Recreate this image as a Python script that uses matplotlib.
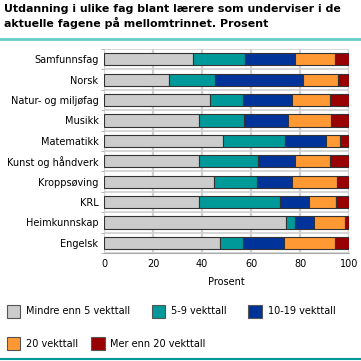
import matplotlib
matplotlib.use("Agg")
import matplotlib.pyplot as plt
from matplotlib.patches import Patch
import numpy as np

fag = ["Samfunnsfag", "Norsk", "Natur- og miljøfag", "Musikk", "Matematikk",
       "Kunst og håndverk", "Kroppsøving", "KRL", "Heimkunnskap", "Engelsk"]

# prosent per kategori
mindre_enn_5 = [36.5, 26.7, 43.4, 38.6, 48.7, 38.9, 45.0, 38.6, 74.3, 47.5]
v5_9 = [21.2, 18.7, 13.5, 18.7, 25.3, 24.0, 17.6, 33.2, 3.7, 9.4]
v10_19 = [20.1, 35.7, 20.0, 17.7, 16.5, 14.9, 14.1, 11.7, 7.6, 16.7]
v20 = [16.6, 14.4, 15.5, 17.8, 5.6, 14.6, 18.4, 11.3, 12.9, 20.8]
mer_enn_20 = [5.6, 4.5, 7.6, 7.2, 3.9, 7.6, 4.9, 5.2, 1.5, 5.6]

serier = [mindre_enn_5, v5_9, v10_19, v20, mer_enn_20]
navn = ["Mindre enn 5 vekttall", "5-9 vekttall", "10-19 vekttall",
        "20 vekttall", "Mer enn 20 vekttall"]
farger = ["#cccccc", "#009999", "#003399", "#ff9933", "#990000"]

fig = plt.figure(figsize=(3.61, 3.61), dpi=100)
ax = fig.add_axes([0.288, 0.299, 0.679, 0.565])

y = np.arange(len(fag))
venstre = np.zeros(len(fag))
for verdier, farge in zip(serier, farger):
    ax.barh(y, verdier, left=venstre, height=0.6, color=farge,
            edgecolor="#333333", linewidth=0.8, zorder=3)
    venstre += np.array(verdier)

ax.set_ylim(len(fag) - 0.5, -0.5)
ax.set_xlim(0, 100)
ax.set_yticks(y)
ax.set_yticklabels(fag, fontsize=7)
ax.set_yticks(np.arange(len(fag) + 1) - 0.5, minor=True)
ax.set_xticks([0, 20, 40, 60, 80, 100])
ax.tick_params(axis="x", labelsize=7, length=0, pad=4)
ax.tick_params(axis="y", which="major", length=0, pad=4)
ax.tick_params(axis="y", which="minor", length=2, color="#aaaaaa")
ax.grid(axis="x", color="#d0d0d0", linewidth=1.6, zorder=0)
ax.grid(axis="y", which="minor", color="#d0d0d0", linewidth=1.2, zorder=0)
for s in ["top", "right", "left"]:
    ax.spines[s].set_visible(False)
ax.spines["bottom"].set_color("#aaaaaa")
ax.set_xlabel("Prosent", fontsize=7, labelpad=6)

fig.text(0.012, 0.99, "Utdanning i ulike fag blant lærere som underviser i de\n"
         "aktuelle fagene på mellomtrinnet. Prosent",
         fontsize=7.9, fontweight="bold", va="top", ha="left", linespacing=1.3)
fig.add_artist(plt.Line2D([0, 1], [0.893, 0.893], color="#66cccc", linewidth=2))
fig.add_artist(plt.Line2D([0, 1], [0.006, 0.006], color="#009999", linewidth=1.5))

handles = [Patch(facecolor=f, edgecolor="#555555", linewidth=0.8) for f in farger]
fig.legend(handles[:3], navn[:3], loc="upper left", bbox_to_anchor=(0.0, 0.175),
           ncol=3, frameon=False, fontsize=7, handlelength=1.4, handleheight=1.7,
           handletextpad=0.6, columnspacing=2.2, borderpad=0.2)
fig.legend(handles[3:], navn[3:], loc="upper left", bbox_to_anchor=(0.0, 0.085),
           ncol=2, frameon=False, fontsize=7, handlelength=1.4, handleheight=1.7,
           handletextpad=0.6, columnspacing=1.3, borderpad=0.2)

fig.savefig("out.png", dpi=100)
